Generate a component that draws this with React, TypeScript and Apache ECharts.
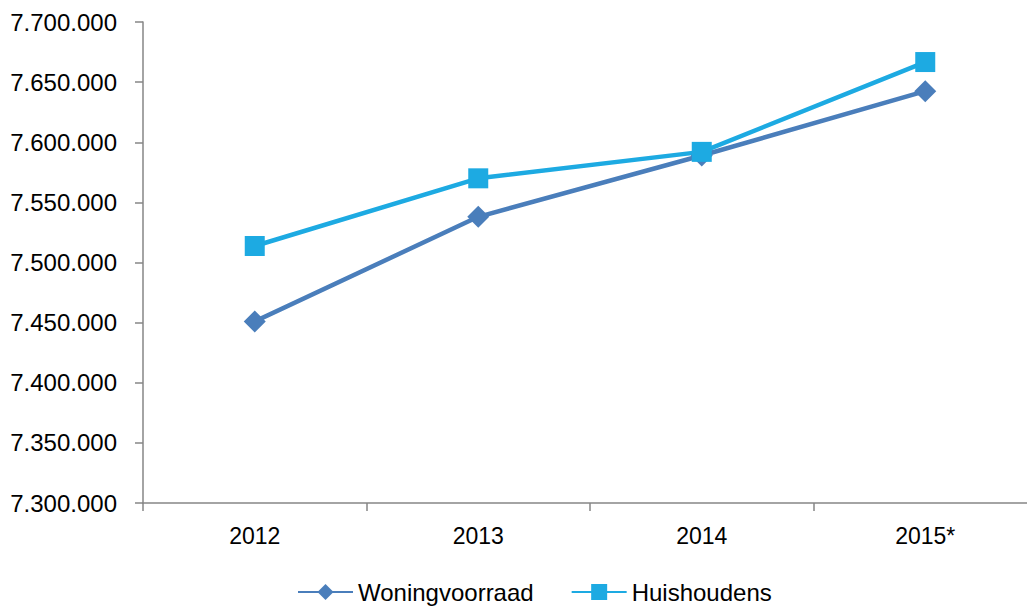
import React, { useEffect, useRef } from "react";
import * as echarts from "echarts";

const categories = ["2012", "2013", "2014", "2015*"];
const woningvoorraad = [7451000, 7538000, 7589000, 7642500];
const huishoudens = [7513700, 7570000, 7592000, 7666700];
const yMin = 7300000;
const yMax = 7700000;
const yInterval = 50000;

const fmt = (v: number) => String(Math.round(v)).replace(/\B(?=(\d{3})+(?!\d))/g, ".");

export default function App() {
  const ref = useRef<HTMLDivElement>(null);
  useEffect(() => {
    if (!ref.current) return;
    const chart = echarts.init(ref.current, null, { renderer: "svg" });
    const font = "'Liberation Sans', Arial, sans-serif";
    chart.setOption({
      animation: false,
      grid: { left: 143, top: 22, width: 894, height: 481, containLabel: false },
      legend: {
        left: 292,
        top: 575,
        itemWidth: 55,
        itemHeight: 20,
        itemGap: 37,
        textStyle: { fontFamily: font, fontSize: 24, color: "#000" },
        data: ["Woningvoorraad", "Huishoudens"],
      },
      xAxis: {
        type: "category",
        data: categories,
        boundaryGap: true,
        axisLine: { lineStyle: { color: "#868686", width: 1.5 } },
        axisTick: { show: true, length: 8, alignWithLabel: false, lineStyle: { color: "#868686", width: 1.5 } },
        axisLabel: { fontFamily: font, fontSize: 23, color: "#000", margin: 21 },
      },
      yAxis: {
        type: "value",
        min: yMin,
        max: yMax,
        interval: yInterval,
        axisLine: { show: true, lineStyle: { color: "#868686", width: 1.5 } },
        axisTick: { show: true, length: 8, lineStyle: { color: "#868686", width: 1.5 } },
        splitLine: { show: false },
        axisLabel: { fontFamily: font, fontSize: 24, color: "#000", margin: 26, formatter: (v: number) => fmt(v) },
      },
      series: [
        {
          name: "Woningvoorraad",
          type: "line",
          data: woningvoorraad,
          symbol: "diamond",
          symbolSize: 22,
          lineStyle: { width: 4.5, color: "#4A7EBB" },
          itemStyle: { color: "#4A7EBB" },
        },
        {
          name: "Huishoudens",
          type: "line",
          data: huishoudens,
          symbol: "rect",
          symbolSize: 20,
          lineStyle: { width: 4.5, color: "#1DAAE2" },
          itemStyle: { color: "#1DAAE2" },
        },
      ],
    });
    return () => chart.dispose();
  }, []);
  return (
    <div
      style={{ position: "fixed", left: 0, top: 0, width: 1027, height: 606, overflow: "hidden", background: "#fff" }}
    >
      <div ref={ref} style={{ position: "absolute", left: 0, top: 0, width: 1050, height: 606 }} />
    </div>
  );
}
